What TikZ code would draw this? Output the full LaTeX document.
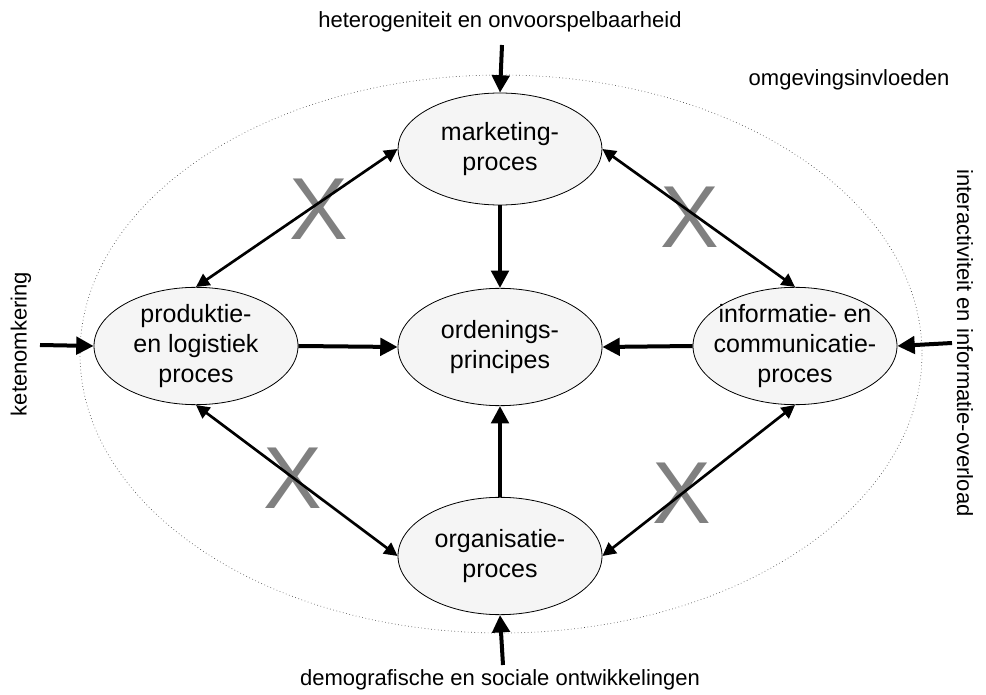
\documentclass[tikz,border=0pt]{standalone}
\usepackage{fontspec}
\setmainfont{Liberation Sans}
\usetikzlibrary{arrows.meta,shapes.geometric}
\begin{document}
\begin{tikzpicture}[x=0.75pt,y=-0.75pt,
  proc/.style={ellipse,draw=black,line width=0.6pt,fill=black!4,minimum width=153pt,minimum height=88pt,inner xsep=-12pt,inner ysep=-6pt,align=center,font=\fontsize{18.75}{22.5}\selectfont},
  outer/.style={font=\fontsize{16.5}{20}\selectfont,inner sep=0pt},
  mainarrow/.style={line width=3pt,-{Triangle[length=13pt,width=13pt]}},
  diagarrow/.style={line width=2pt,{Triangle[length=10pt,width=10pt]}-{Triangle[length=10pt,width=10pt]}},
  cross/.style={text=black!50,font=\fontsize{66}{66}\selectfont,inner sep=0pt}]
\useasboundingbox (0,0) rectangle (986,695);
% outer environment ellipse
\draw[dotted,line width=0.5pt,black!70] (501,354) ellipse [x radius=315.75pt,y radius=209.25pt];
% process nodes
\node[proc,minimum height=84pt] (mk) at (500,149) {marketing-\\proces};
\node[proc] (pr) at (196,346) {produktie-\\en logistiek\\proces};
\node[proc] (od) at (500,347) {ordenings-\\principes};
\node[proc] (in) at (795,346) {informatie- en\\communicatie-\\proces};
\node[proc] (or) at (500,556) {organisatie-\\proces};
% crosses
\node[cross] (x1) at (319,209) {X};
\node[cross] (x2) at (690,217) {X};
\node[cross] (x3) at (293,478) {X};
\node[cross] (x4) at (682,493) {X};
% diagonal relations
\draw[diagarrow] (mk.west) -- (pr.north);
\draw[diagarrow] (mk.east) -- (in.north);
\draw[diagarrow] (pr.south) -- (or.west);
\draw[diagarrow] (or.east) -- (in.south);
% main arrows to ordenings
\draw[mainarrow] (mk.south) -- (od.north);
\draw[mainarrow] (pr.east) -- (od.west);
\draw[mainarrow] (in.west) -- (od.east);
\draw[mainarrow] (or.north) -- (od.south);
% outer labels
\node[outer] (top) at (500,22) {heterogeniteit en onvoorspelbaarheid};
\node[outer] (env) at (849,80) {omgevingsinvloeden};
\node[outer,rotate=90] (left) at (21,344) {ketenomkering};
\node[outer,rotate=-90] (right) at (965,343) {interactiviteit en informatie-overload};
\node[outer] (bot) at (500,680) {demografische en sociale ontwikkelingen};
% external influence arrows
\coordinate (ct) at (502,45);
\coordinate (cl) at (40,345);
\coordinate (cr) at (952,343);
\coordinate (cb) at (503,665);
\draw[mainarrow] (ct) -- (mk.north);
\draw[mainarrow] (cl) -- (pr.west);
\draw[mainarrow] (cr) -- (in.east);
\draw[mainarrow] (cb) -- (or.south);
\end{tikzpicture}
\end{document}
